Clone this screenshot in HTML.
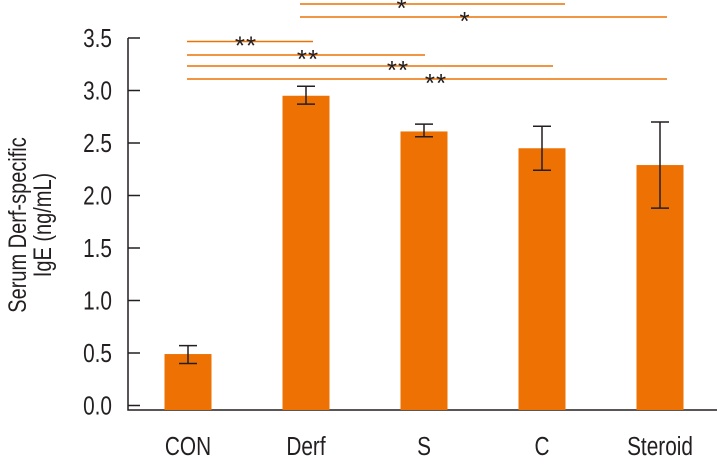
<!DOCTYPE html>
<html><head><meta charset="utf-8"><style>
body{margin:0;background:#fff}
svg text{font-family:"Liberation Sans",sans-serif;fill:#231f20}
</style></head><body>
<svg id="c" width="717" height="461" viewBox="0 0 717 461"></svg>
<script>
const categories=["CON","Derf","S","C","Steroid"];
const values=[0.49,2.95,2.61,2.45,2.29];
const errHigh=[0.57,3.04,2.68,2.66,2.70];
const errLow=[0.40,2.87,2.56,2.24,1.88];
const ticks=[0,0.5,1,1.5,2,2.5,3,3.5];
const tickLabels=["0.0","0.5","1.0","1.5","2.0","2.5","3.0","3.5"];
const NS="http://www.w3.org/2000/svg";
const svg=document.getElementById('c');
function y(v){return 405.5-v*105;}
function xc(i){return 188+i*118;}
function mk(t,a,p){const e=document.createElementNS(NS,t);for(const k in a)e.setAttribute(k,a[k]);(p||svg).appendChild(e);return e;}
function txt(x,yy,s,anchor,size,p){const e=mk('text',{transform:`translate(${x},${yy}) scale(0.8,1)`,'text-anchor':anchor,'font-size':size},p);e.textContent=s;return e;}
let ax=mk('path',{d:'M128,38 V410 H717',fill:'none',stroke:'#231f20','stroke-width':1.5});


ticks.forEach((t,i)=>{
  let l=mk('line',{x1:128,x2:140,y1:y(t),y2:y(t),stroke:'#231f20','stroke-width':1.5});
  
  
  let tx=txt(112,y(t)+9,tickLabels[i],'end',26);
  
  
});
categories.forEach((c,i)=>{
  let b=mk('rect',{x:xc(i)-23.5,y:y(values[i]),width:47,height:410-y(values[i]),fill:'#ee7203'});
  
  
  let e=mk('path',{d:`M${xc(i)},${y(errHigh[i])}V${y(errLow[i])}M${xc(i)-9},${y(errHigh[i])}h18M${xc(i)-9},${y(errLow[i])}h18`,stroke:'#231f20','stroke-width':1.5,fill:'none'});
  
  
  let t=txt(xc(i),455,c,'middle',26);
  
  
});
const sig=[[300,565,4,402,'*'],[300,667,17,465,'*'],[187,313,41.5,246,'**'],[187,425,55,308,'**'],[187,553,66,398,'**'],[187,667,79,436,'**']];
sig.forEach(s=>{
  let l=mk('line',{x1:s[0],x2:s[1],y1:s[2],y2:s[2],stroke:'#ee7203','stroke-width':1.6});
  
  
  let t=mk('text',{x:s[3],y:s[2]+13,'text-anchor':'middle','font-size':26,'letter-spacing':'1'});
  t.textContent=s[4];
  
  
});
let g=mk('g',{transform:'translate(30,225) rotate(-90)'});


txt(0,-4,'Serum Derf-specific','middle',25,g);
txt(0,21,'IgE (ng/mL)','middle',25,g);
</script>
</body></html>
